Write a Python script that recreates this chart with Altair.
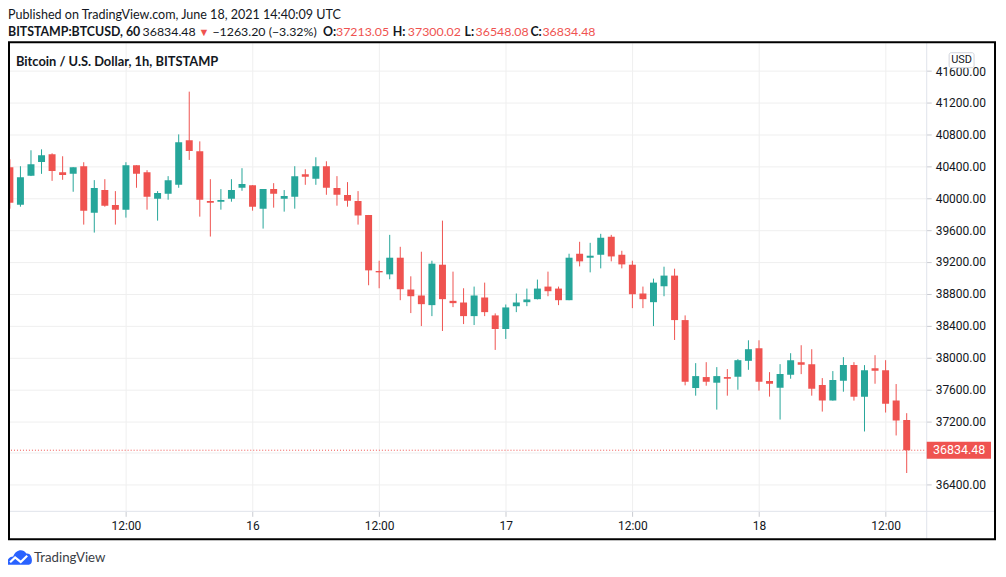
import altair as alt
import pandas as pd

# ---------------- data ----------------
# candle start, hours since 2021-06-15 00:00 UTC
hours = list(range(1, 87))
opens = [40391, 39920, 40283, 40458, 40554, 40329, 40308, 40404, 39820, 40104,
         39916, 39858, 40416, 40329, 39995, 40058, 40170, 40729, 40591, 39966,
         39958, 39995, 40133, 40166, 39870, 40116, 39995, 40020, 40304, 40245,
         40404, 40129, 40041, 39966, 39791, 39087, 39045, 39254, 38854, 38779,
         38658, 39166, 38712, 38691, 38520, 38754, 38529, 38358, 38645, 38695,
         38733, 38891, 38866, 38720, 39304, 39254, 39291, 39516, 39291, 39166,
         38804, 38695, 38895, 39029, 38470, 37616, 37754, 37683, 37754, 37758,
         37958, 38116, 37704, 37620, 37783, 37941, 37916, 37654, 37458, 37708,
         37904, 37508, 37866, 37841, 37458, 37213.05]
highs = [40491, 40404, 40604, 40616, 40566, 40529, 40391, 40454, 40229, 40241,
         40091, 40454, 40416, 40354, 40091, 40279, 40804, 41341, 40716, 40241,
         40116, 40241, 40379, 40166, 40116, 40191, 40104, 40404, 40366, 40516,
         40466, 40279, 40204, 40091, 39791, 39216, 39541, 39391, 39020, 39329,
         39216, 39720, 39079, 38870, 38891, 38941, 38554, 38666, 38804, 38866,
         38979, 39079, 38891, 39304, 39454, 39441, 39554, 39541, 39341, 39216,
         38891, 38991, 39141, 39116, 38529, 37929, 37941, 37879, 37854, 37979,
         38216, 38216, 37816, 37916, 38054, 38154, 38104, 37741, 37829, 38004,
         37941, 37904, 38029, 37966, 37666, 37300.02]
lows = [39870, 39895, 40280, 40308, 40220, 40233, 40083, 39670, 39570, 39895,
        39670, 39758, 40133, 39858, 39720, 39983, 40133, 40483, 39770, 39520,
        39858, 39958, 40095, 39845, 39620, 39883, 39833, 39870, 40170, 40170,
        40045, 39908, 39895, 39670, 38908, 38870, 38983, 38720, 38558, 38395,
        38520, 38333, 38633, 38420, 38408, 38520, 38095, 38233, 38570, 38645,
        38730, 38770, 38658, 38720, 39145, 39070, 39120, 39208, 39120, 38620,
        38620, 38395, 38770, 38220, 37650, 37520, 37645, 37345, 37520, 37595,
        37845, 37583, 37508, 37220, 37733, 37791, 37520, 37320, 37458, 37570,
        37458, 37070, 37670, 37308, 37020, 36548.08]
closes = [39945, 40266, 40429, 40541, 40345, 40295, 40391, 39845, 40129, 39908,
          39858, 40416, 40308, 40020, 40066, 40229, 40704, 40595, 39983, 39945,
          39979, 40104, 40179, 39895, 40116, 40058, 40029, 40279, 40270, 40404,
          40133, 40045, 39970, 39783, 39095, 39070, 39254, 38858, 38770, 38670,
          39179, 38733, 38683, 38520, 38779, 38570, 38358, 38629, 38691, 38729,
          38866, 38833, 38720, 39254, 39208, 39279, 39504, 39270, 39170, 38795,
          38733, 38941, 39029, 38470, 37695, 37766, 37695, 37766, 37733, 37966,
          38104, 37695, 37670, 37791, 37966, 37908, 37608, 37458, 37716, 37904,
          37508, 37841, 37833, 37420, 37208, 36834.48]

y_ticks = [36400, 36800, 37200, 37600, 38000, 38400, 38800, 39200, 39600,
           40000, 40400, 40800, 41200, 41600]
x_tick_hours = [12, 24, 36, 48, 60, 72, 84]
x_tick_labels = ["12:00", "16", "12:00", "17", "12:00", "18", "12:00"]

published_text = "Published on TradingView.com, June 18, 2021 14:40:09 UTC"
symbol_text = "BITSTAMP:BTCUSD, 60"
last_text = "36834.48"
change_text = "\u22121263.20 (\u22123.32%)"
ohlc_keys = ["O:", "H:", "L:", "C:"]
ohlc_vals = ["37213.05", "37300.02", "36548.08", "36834.48"]
pane_title = "Bitcoin / U.S. Dollar, 1h, BITSTAMP"
currency = "USD"
brand = "TradingView"
last_close = 36834.48
hidden_y_label = 36800  # covered by the last-price tag in the reference

# ---------------- style / layout ----------------
GREEN = "#26a69a"
RED = "#ef5350"
TXT = "#131722"
GRID = "#efefef"
LINE = "#e0e3eb"
W, H = 921, 470
FONT = "Roboto"
HFONT = "Lato"

df = pd.DataFrame({"h": hours, "open": opens, "high": highs,
                   "low": lows, "close": closes})
last_df = pd.DataFrame({"h": [hours[-1]], "c": [last_close],
                        "label": [f"{last_close:.2f}"]})
one = pd.DataFrame({"a": [0]})

x_scale = alt.Scale(domain=[0.822, 87.85], nice=False, zero=False, padding=0)
y_scale = alt.Scale(domain=[36066.5, 41955.6], nice=False, zero=False, padding=0)

label_expr = ""
for hv, lab in zip(x_tick_hours, x_tick_labels):
    label_expr += f"datum.value == {hv} ? '{lab}' : "
label_expr += "''"

x_axis = alt.Axis(values=x_tick_hours, labelExpr=label_expr, grid=True,
                  gridColor=GRID, domain=False, tickColor="#c9cbd1", tickSize=5,
                  labelPadding=4, labelFont=FONT, labelFontSize=12,
                  labelColor=TXT, title=None, labelFlush=False,
                  labelOverlap=False)
y_axis = alt.Axis(orient="right", values=y_ticks,
                  labelExpr=f"datum.value == {hidden_y_label} ? '' : format(datum.value, '.2f')",
                  grid=True,
                  gridColor=GRID, domain=False, tickColor="#c9cbd1", tickSize=5,
                  labelPadding=4, labelFont=FONT, labelFontSize=12,
                  labelColor=TXT, title=None, labelFlush=False,
                  labelOverlap=False)

X = alt.X("h:Q", scale=x_scale, axis=x_axis)


def Y(field):
    return alt.Y(field, scale=y_scale, axis=y_axis)


cond = alt.condition("datum.close >= datum.open", alt.value(GREEN), alt.value(RED))

wicks = alt.Chart(df).mark_rule(strokeWidth=1, clip=True).encode(
    x=X, y=Y("low:Q"), y2="high:Q", color=cond)
bodies = alt.Chart(df).mark_bar(size=7, clip=True).encode(
    x=X, y=Y("open:Q"), y2="close:Q", color=cond)

price_line = alt.Chart(last_df).mark_rule(color=RED, strokeDash=[1, 2],
                                           strokeWidth=1).encode(
    y=Y("c:Q"), x=alt.value(0), x2=alt.value(W))
price_box = alt.Chart(last_df).mark_rect(color=RED, yOffset=-8.5,
                                          y2Offset=8.5).encode(
    y=Y("c:Q"), y2="c:Q", x=alt.value(W + 0.5), x2=alt.value(W + 65))
price_text = alt.Chart(last_df).mark_text(color="white", font=FONT, fontSize=12.5,
                                           align="center", baseline="middle").encode(
    y=Y("c:Q"), x=alt.value(W + 33), text="label:N")

hline = alt.Chart(one).mark_rule(color=LINE, strokeWidth=1).encode(
    x=alt.value(0), x2=alt.value(990), y=alt.value(H))
vline = alt.Chart(one).mark_rule(color=LINE, strokeWidth=1).encode(
    x=alt.value(W + 0.5), y=alt.value(0), y2=alt.value(498))
frame = alt.Chart(one).mark_rect(filled=False, color="black", strokeWidth=2).encode(
    x=alt.value(1), x2=alt.value(990), y=alt.value(-0.5), y2=alt.value(498))

usd_box = alt.Chart(one).mark_rect(fill="white", stroke="#d1d4dc", strokeWidth=1,
                                   cornerRadius=2).encode(
    x=alt.value(944), x2=alt.value(969), y=alt.value(10), y2=alt.value(25))
usd_text = alt.Chart(one).mark_text(text=currency, font=FONT, fontSize=11,
                                    color=TXT, align="center",
                                    baseline="middle").encode(
    x=alt.value(956.5), y=alt.value(17.5))


def label(text, x, y, color=TXT, bold=False, size=12.4, font=HFONT):
    return alt.Chart(one).mark_text(
        text=text, font=font, fontSize=size, color=color,
        fontWeight="bold" if bold else "normal",
        align="left", baseline="alphabetic").encode(
        x=alt.value(x), y=alt.value(y))


L1, L2 = -23.7, -6.3
texts = [
    label(published_text, 0, L1, size=12.6),
    label(symbol_text, 0, L2, bold=True),
    label(last_text, 135, L2),
    label("\u25bc", 191, L2, color=RED, size=11),
    label(change_text, 205, L2),
]
for key, val, kx, vx in zip(ohlc_keys, ohlc_vals,
                            [316, 386, 458, 524], [329, 401, 469, 536]):
    texts.append(label(key, kx, L2, bold=True))
    texts.append(label(val, vx, L2, color=RED))
texts.append(label(pane_title, 8, 23, bold=True, size=12.9))
texts.append(label(brand, 26, 520.7, color="#3b3e45", size=13.3))

cloud = ("M-1,0.6 C-1.05,0.2 -0.8,-0.05 -0.5,-0.05 C-0.35,-0.55 0.25,-0.75 0.55,-0.3 "
         "C0.85,-0.35 1,-0.05 1,0.25 C1,0.5 0.9,0.6 0.75,0.6 Z")
zig = "M-0.75,0.4 L-0.35,0.02 L0.1,0.38 L0.62,-0.12"
logo = alt.Chart(one).mark_point(shape=cloud, size=625, filled=True,
                                 color="#2962ff", opacity=1).encode(
    x=alt.value(11.5), y=alt.value(516))
logo_zig = alt.Chart(one).mark_point(shape=zig, size=625, filled=False,
                                     color="white", strokeWidth=2.2,
                                     opacity=1).encode(
    x=alt.value(11.5), y=alt.value(516))

chart = alt.layer(
    wicks, bodies, price_line, hline, vline, price_box, price_text,
    usd_box, usd_text, frame, logo, logo_zig, *texts
).properties(
    width=W, height=H, autosize="none",
    padding={"left": 0, "top": 34, "right": 72, "bottom": 60},
    background="white",
).configure_view(stroke=None)

chart.save("out.html", embed_options={"renderer": "svg", "actions": False})
